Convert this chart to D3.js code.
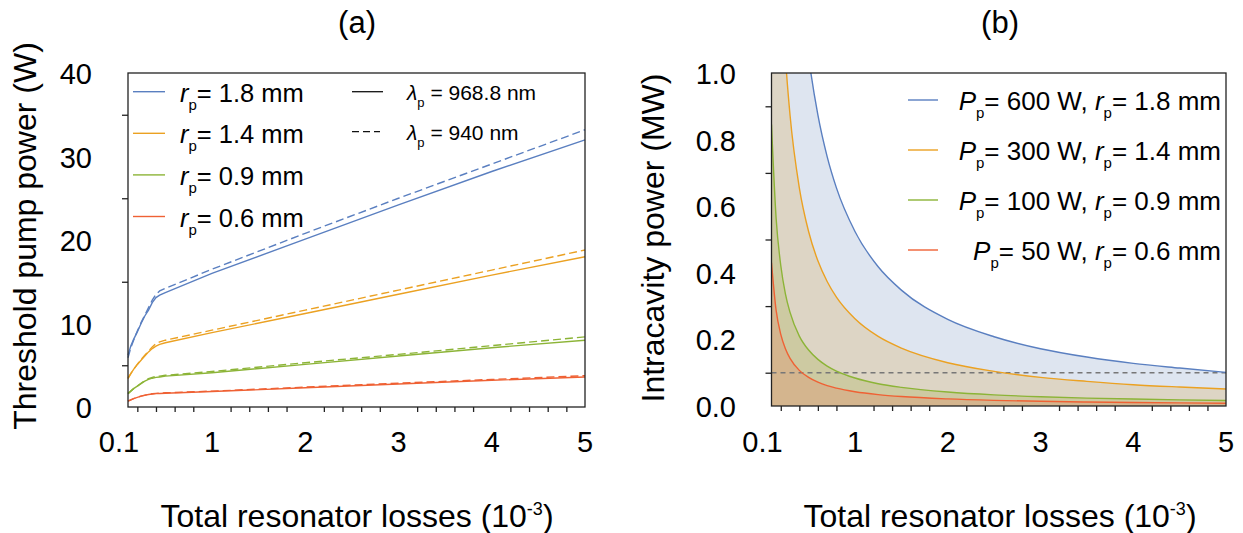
<!DOCTYPE html>
<html>
<head>
<meta charset="utf-8">
<script src="https://cdn.jsdelivr.net/npm/d3@7"></script>
<style>
  body { margin: 0; background: #fff; }
  svg text { font-family: "Liberation Sans", Arial, sans-serif; fill: #000; }
</style>
</head>
<body>
<svg id="chart" width="1243" height="533"></svg>
<script>
// ---------- (a) threshold pump power vs. total resonator losses ----------
const lossesA = [0.1, 0.13, 0.16, 0.2, 0.24, 0.28, 0.32, 0.36, 0.4, 0.44, 0.5, 1, 2, 3, 4, 5];
// pump wavelength 968.8 nm (solid)
const pth968_r18 = [6.2, 7.3, 8.1, 9.0, 10.0, 10.9, 11.6, 12.5, 13.1, 13.4, 13.7, 16.0, 20.1, 24.2, 28.2, 32.0];
const pth968_r14 = [3.5, 4.0, 4.5, 5.1, 5.6, 6.1, 6.6, 7.0, 7.3, 7.5, 7.7, 8.9, 11.2, 13.5, 15.8, 18.0];
const pth968_r09 = [1.6, 1.9, 2.2, 2.5, 2.8, 3.1, 3.3, 3.45, 3.55, 3.6, 3.7, 4.1, 5.1, 6.1, 7.1, 8.0];
const pth968_r06 = [0.7, 0.85, 1.0, 1.15, 1.3, 1.4, 1.5, 1.55, 1.6, 1.62, 1.65, 1.85, 2.3, 2.75, 3.2, 3.6];
// pump wavelength 940 nm (dashed)
const pth940_r18 = [5.9, 7.1, 8.0, 9.1, 10.1, 11.0, 11.9, 12.8, 13.5, 13.9, 14.2, 16.5, 20.8, 25.0, 29.1, 33.2];
const pth940_r14 = [3.4, 4.0, 4.5, 5.1, 5.7, 6.2, 6.7, 7.2, 7.6, 7.8, 8.0, 9.2, 11.6, 14.0, 16.4, 18.8];
const pth940_r09 = [1.6, 1.9, 2.2, 2.5, 2.85, 3.15, 3.4, 3.55, 3.65, 3.7, 3.8, 4.25, 5.3, 6.3, 7.35, 8.4];
const pth940_r06 = [0.7, 0.85, 1.0, 1.15, 1.3, 1.42, 1.52, 1.58, 1.63, 1.66, 1.7, 1.9, 2.38, 2.85, 3.3, 3.75];

const radiusLabels = ["1.8 mm", "1.4 mm", "0.9 mm", "0.6 mm"];
const wavelengthLabels = ["968.8 nm", "940 nm"];

// ---------- (b) intracavity power vs. total resonator losses ----------
const lossesB = [0.1, 0.15, 0.2, 0.25, 0.3, 0.4, 0.5, 0.6, 0.7, 0.8, 1, 1.25, 1.5, 2, 2.5, 3, 3.5, 4, 4.5, 5];
const intra600 = [5.25, 3.5, 2.62, 2.1, 1.75, 1.31, 1.05, 0.874, 0.749, 0.655, 0.524, 0.418, 0.348, 0.26, 0.208, 0.172, 0.147, 0.128, 0.114, 0.101];
const intra300 = [2.62, 1.75, 1.31, 1.048, 0.873, 0.655, 0.524, 0.436, 0.374, 0.327, 0.262, 0.209, 0.174, 0.13, 0.104, 0.086, 0.074, 0.064, 0.057, 0.051];
const intra100 = [0.845, 0.563, 0.422, 0.337, 0.281, 0.21, 0.168, 0.14, 0.12, 0.105, 0.084, 0.067, 0.056, 0.042, 0.0334, 0.0278, 0.0238, 0.0208, 0.0184, 0.0166];
const intra50  = [0.43, 0.287, 0.215, 0.172, 0.143, 0.107, 0.086, 0.0715, 0.061, 0.0535, 0.0428, 0.0342, 0.0284, 0.0213, 0.017, 0.0141, 0.0121, 0.0105, 0.0093, 0.0083];
const pumpLabels = ["600 W", "300 W", "100 W", "50 W"];
const refPower = 0.1;

// shared axis ticks
const xMajor = [1, 2, 3, 4, 5];
const xMinor = [0.2, 0.4, 0.6, 0.8, 1.2, 1.4, 1.6, 1.8, 2.2, 2.4, 2.6, 2.8, 3.2, 3.4, 3.6, 3.8, 4.2, 4.4, 4.6, 4.8];
const xTickLabels = ["0.1", "1", "2", "3", "4", "5"];
const xTickValues = [0.1, 1, 2, 3, 4, 5];
const yMajorA = [0, 10, 20, 30, 40];
const yMinorA = [5, 15, 25, 35];
const yMajorB = [0, 0.2, 0.4, 0.6, 0.8, 1.0];
const yMinorB = [0.1, 0.3, 0.5, 0.7, 0.9];

const colors = ["#5a7fc0", "#eba122", "#8cb437", "#ef6134"];
const fills = ["#dee5f0", "#ddd5c5", "#cdcaa2", "#d4b58e"];

const svg = d3.select("#chart");

function addText(parent, x, y, size, anchor, parts, rotate) {
  const t = parent.append("text")
    .attr("transform", `translate(${x},${y})` + (rotate ? ` rotate(${rotate})` : ""))
    .attr("text-anchor", anchor)
    .attr("font-size", size);
  if (typeof parts === "string") { t.text(parts); return t; }
  let shift = 0;
  parts.forEach(p => {
    const s = t.append("tspan").text(p.t);
    let target = 0;
    if (p.sub) target = p.shift;
    if (p.sup) target = -p.shift;
    if (target - shift !== 0) s.attr("dy", target - shift);
    shift = target;
    if (p.size) s.attr("font-size", p.size);
    if (p.italic) s.attr("font-style", "italic");
  });
  return t;
}

function drawFrame(x, y, majY, minY) {
  const g = svg.append("g").attr("color", "#222");
  const y0 = y.range()[0];
  const ax = g.append("g").attr("transform", `translate(0,${y0})`);
  ax.call(d3.axisBottom(x).tickValues(xMajor).tickSize(12).tickSizeOuter(0).tickFormat(""));
  ax.call(d3.axisBottom(x).tickValues(xMinor).tickSize(5).tickSizeOuter(0).tickFormat(""));
  const x0 = x.range()[0];
  const ay = g.append("g").attr("transform", `translate(${x0},0)`);
  ay.call(d3.axisLeft(y).tickValues(majY).tickSize(12).tickSizeOuter(0).tickFormat(""));
  ay.call(d3.axisLeft(y).tickValues(minY).tickSize(6).tickSizeOuter(0).tickFormat(""));
  g.selectAll(".domain").remove();
  g.selectAll(".tick line").attr("stroke-width", 1.3);
  g.append("rect")
    .attr("x", x.range()[0]).attr("y", y.range()[1])
    .attr("width", x.range()[1] - x.range()[0]).attr("height", y.range()[0] - y.range()[1])
    .attr("fill", "none").attr("stroke", "#222").attr("stroke-width", 1.3);
}

function xTickText(x) {
  xTickValues.forEach((v, i) => addText(svg, x(v) - (i === 0 ? 9 : 0), 452, 29, "middle", xTickLabels[i]));
}

function xTitle(cx) {
  addText(svg, cx, 527, 32, "middle", [
    { t: "Total resonator losses (10" },
    { t: "-3", sup: true, shift: 12, size: 18 },
    { t: ")" }
  ]);
}

// ================= panel (a) =================
const xA = d3.scaleLinear().domain([0.1, 5]).range([128, 585]);
const yA = d3.scaleLinear().domain([0, 40]).range([407, 73]);

const solidA = [pth968_r18, pth968_r14, pth968_r09, pth968_r06];
const dashedA = [pth940_r18, pth940_r14, pth940_r09, pth940_r06];
const lineA = d3.line().x(d => xA(d[0])).y(d => yA(d[1]));

const gA = svg.append("g").attr("fill", "none").attr("stroke-width", 1.4);
[3, 2, 1, 0].forEach(i => {
  gA.append("path").datum(lossesA.map((l, k) => [l, dashedA[i][k]]))
    .attr("d", lineA).attr("stroke", colors[i]).attr("stroke-dasharray", "8,4");
  gA.append("path").datum(lossesA.map((l, k) => [l, solidA[i][k]]))
    .attr("d", lineA).attr("stroke", colors[i]);
});

drawFrame(xA, yA, yMajorA, yMinorA);
yMajorA.forEach(v => addText(svg, 92, yA(v) + 11, 29, "end", String(v)));
xTickText(xA);
xTitle(357);
addText(svg, 357, 33, 31, "middle", "(a)");
addText(svg, 36, 236, 32, "middle", "Threshold pump power (W)", -90);

// legend (a): pump radius
radiusLabels.forEach((lab, i) => {
  const ly = 91.7 + i * 41.6;
  svg.append("line").attr("x1", 133).attr("x2", 165).attr("y1", ly).attr("y2", ly)
    .attr("stroke", colors[i]).attr("stroke-width", 1.4);
  addText(svg, 180, ly + 10, 25.5, "start", [
    { t: "r", italic: true },
    { t: "p", sub: true, shift: 8, size: 15 },
    { t: "= " + lab }
  ]);
});
// legend (a): pump wavelength
wavelengthLabels.forEach((lab, i) => {
  const ly = 91.7 + i * 40;
  svg.append("line").attr("x1", 352).attr("x2", i ? 380 : 383).attr("y1", ly).attr("y2", ly)
    .attr("stroke", "#111").attr("stroke-width", 1.3)
    .attr("stroke-dasharray", i ? "7,4" : null);
  addText(svg, 407, ly + 8.5, 21, "start", [
    { t: "λ", italic: true },
    { t: "p", sub: true, shift: 6.5, size: 13 },
    { t: " = " + lab }
  ]);
});

// ================= panel (b) =================
const xB = d3.scaleLinear().domain([0.1, 5]).range([771.5, 1226]);
const yB = d3.scaleLinear().domain([0, 1]).range([406, 73]);

svg.append("clipPath").attr("id", "plotB").append("rect")
  .attr("x", 771.5).attr("y", 73).attr("width", 1226 - 771.5).attr("height", 406 - 73);

const seriesB = [intra600, intra300, intra100, intra50];
const areaB = d3.area().x(d => xB(d[0])).y0(yB(0)).y1(d => yB(d[1])).curve(d3.curveMonotoneX);
const lineB = d3.line().x(d => xB(d[0])).y(d => yB(d[1])).curve(d3.curveMonotoneX);

const gB = svg.append("g").attr("clip-path", "url(#plotB)");
seriesB.forEach((s, i) => {
  gB.append("path").datum(lossesB.map((l, k) => [l, s[k]]))
    .attr("d", areaB).attr("fill", fills[i]);
});
gB.append("path").datum([[0.1, refPower], [5, refPower]])
  .attr("d", d3.line().x(d => xB(d[0])).y(d => yB(d[1])))
  .attr("stroke", "#777").attr("stroke-width", 1.5).attr("stroke-dasharray", "5,4").attr("fill", "none");
seriesB.forEach((s, i) => {
  gB.append("path").datum(lossesB.map((l, k) => [l, s[k]]))
    .attr("d", lineB).attr("fill", "none").attr("stroke", colors[i]).attr("stroke-width", 1.4);
});

drawFrame(xB, yB, yMajorB, yMinorB);
yMajorB.forEach(v => addText(svg, 736, yB(v) + 11, 29, "end", v.toFixed(1)));
xTickText(xB);
xTitle(1000);
addText(svg, 1000, 33, 31, "middle", "(b)");
addText(svg, 664, 238, 32, "middle", "Intracavity power (MW)", -90);

// legend (b)
const radiiB = ["1.8 mm", "1.4 mm", "0.9 mm", "0.6 mm"];
pumpLabels.forEach((lab, i) => {
  const base = 110 + i * 50;
  svg.append("line").attr("x1", 908).attr("x2", 938).attr("y1", base - 10).attr("y2", base - 10)
    .attr("stroke", colors[i]).attr("stroke-width", 1.4);
  addText(svg, 1221, base, 26, "end", [
    { t: "P", italic: true },
    { t: "p", sub: true, shift: 8, size: 15 },
    { t: "= " + lab + ", " },
    { t: "r", italic: true },
    { t: "p", sub: true, shift: 8, size: 15 },
    { t: "= " + radiiB[i] }
  ]);
});
</script>
</body>
</html>
